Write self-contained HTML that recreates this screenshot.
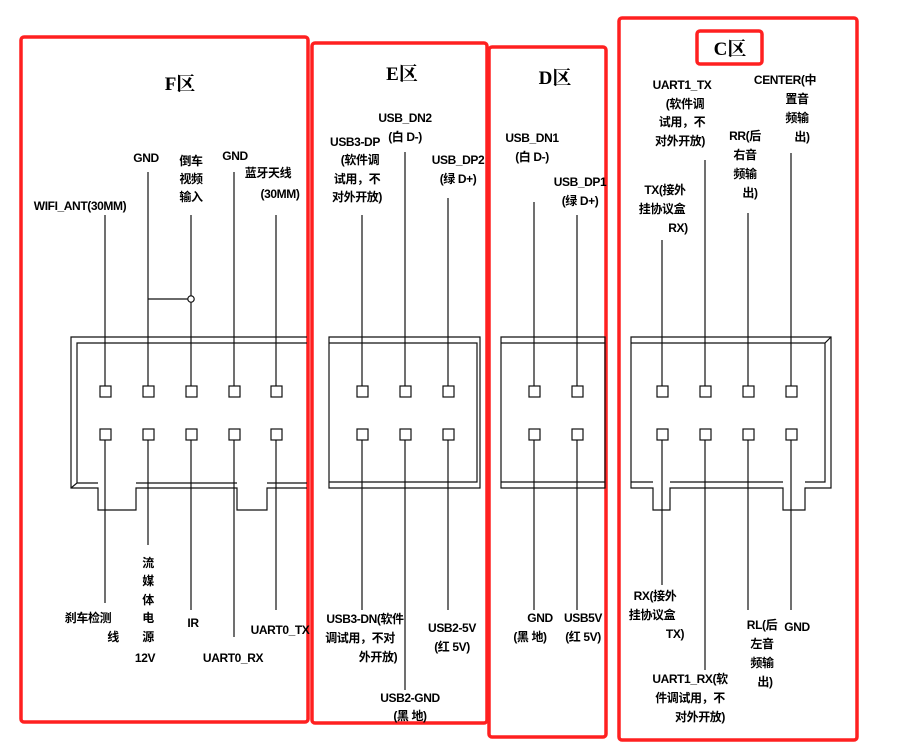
<!DOCTYPE html>
<html><head><meta charset="utf-8"><style>
html,body{margin:0;padding:0;background:#fff;}
svg{display:block;}
text{font-family:"Liberation Sans","Noto Sans CJK SC",sans-serif;font-weight:bold;font-size:12px;fill:#000;letter-spacing:-0.4px;}
.t{font-size:19px;font-weight:bold;font-family:"Liberation Serif","Noto Serif CJK SC",serif;letter-spacing:0;}
</style></head><body>
<svg width="900" height="756" viewBox="0 0 900 756">
<g fill="none" stroke="#ff2020" stroke-width="3.5" stroke-linejoin="round">
<rect x="21" y="37" width="287" height="685" rx="3"/>
<rect x="312" y="43" width="175" height="680" rx="3"/>
<rect x="489" y="47" width="117" height="690" rx="3"/>
<rect x="619" y="18" width="238" height="722" rx="3"/>
<rect x="697" y="31" width="65" height="33" rx="3"/>
</g>
<g fill="none" stroke="#111" stroke-width="1.2">
<path d="M307 337 H71 V488 H98 V510 H136 V488 H237 V510 H267 V488 H307"/>
<path d="M307 343 H77 V483 L71 488 M77 483 H98 M136 483 H237 M267 483 H307"/>
<path d="M329 337 H480 V488 H329 Z M329 343 H477 V482 H329"/>
<path d="M501 337 H605 V488 H501 Z M501 343 H605 M501 482 H605"/>
<path d="M631 337 H831 V488 H805 V510 H783 V488 H670 V510 H653 V488 H631 Z"/>
<path d="M631 343 H825 L831 337 M825 343 V482 H805 M783 482 H670 M653 482 H631"/>
<g>
<rect x="100" y="386" width="11" height="11"/><rect x="143" y="386" width="11" height="11"/><rect x="186" y="386" width="11" height="11"/><rect x="229" y="386" width="11" height="11"/><rect x="271" y="386" width="11" height="11"/>
<rect x="100" y="429" width="11" height="11"/><rect x="143" y="429" width="11" height="11"/><rect x="186" y="429" width="11" height="11"/><rect x="229" y="429" width="11" height="11"/><rect x="271" y="429" width="11" height="11"/>
<rect x="357" y="386" width="11" height="11"/><rect x="400" y="386" width="11" height="11"/><rect x="443" y="386" width="11" height="11"/>
<rect x="357" y="429" width="11" height="11"/><rect x="400" y="429" width="11" height="11"/><rect x="443" y="429" width="11" height="11"/>
<rect x="529" y="386" width="11" height="11"/><rect x="572" y="386" width="11" height="11"/>
<rect x="529" y="429" width="11" height="11"/><rect x="572" y="429" width="11" height="11"/>
<rect x="657" y="386" width="11" height="11"/><rect x="700" y="386" width="11" height="11"/><rect x="743" y="386" width="11" height="11"/><rect x="786" y="386" width="11" height="11"/>
<rect x="657" y="429" width="11" height="11"/><rect x="700" y="429" width="11" height="11"/><rect x="743" y="429" width="11" height="11"/><rect x="786" y="429" width="11" height="11"/>
</g>
<path d="M105 215 V386 M148 172 V386 M191 215 V386 M234 172 V386 M276 215 V386 M148 299 H188"/>
<circle cx="191" cy="299" r="3.2" fill="#fff"/>
<path d="M362 215 V386 M405 152 V386 M448 198 V386 M534 202 V386 M577 215 V386 M662 240 V386 M705 160 V386 M748 213 V386 M791 153 V386"/>
<path d="M105 440 V603 M148 440 V545 M191 440 V610 M234 440 V637 M276 440 V610"/>
<path d="M362 440 V610 M405 440 V690 M448 440 V610 M534 440 V610 M577 440 V610"/>
<path d="M662 440 V585 M705 440 V670 M748 440 V610 M791 440 V610"/>
</g>
<g text-anchor="middle">
<text class="t" x="180" y="90">F区</text>
<text class="t" x="402" y="80">E区</text>
<text class="t" x="555" y="84">D区</text>
<text class="t" x="730" y="55">C区</text>
<text x="80" y="210">WIFI_ANT(30MM)</text>
<text x="146" y="162">GND</text>
<text x="191" y="165">倒车</text><text x="191" y="183">视频</text><text x="191" y="201">输入</text>
<text x="235" y="160">GND</text>
<text x="268" y="177">蓝牙天线</text><text x="280" y="198">(30MM)</text>
<text x="405" y="122">USB_DN2</text><text x="405" y="141">(白 D-)</text>
<text x="355" y="146">USB3-DP</text><text x="360" y="164">(软件调</text><text x="357" y="183">试用，不</text><text x="357" y="201">对外开放)</text>
<text x="458" y="164">USB_DP2</text><text x="458" y="183">(绿 D+)</text>
<text x="532" y="142">USB_DN1</text><text x="532" y="161">(白 D-)</text>
<text x="580" y="186">USB_DP1</text><text x="580" y="205">(绿 D+)</text>
<text x="682" y="89">UART1_TX</text><text x="685" y="108">(软件调</text><text x="682" y="126">试用，不</text><text x="680" y="145">对外开放)</text>
<text x="785" y="84">CENTER(中</text><text x="797" y="103">置音</text><text x="797" y="122">频输</text><text x="802" y="141">出)</text>
<text x="745" y="140">RR(后</text><text x="745" y="159">右音</text><text x="745" y="178">频输</text><text x="750" y="197">出)</text>
<text x="665" y="194">TX(接外</text><text x="662" y="213">挂协议盒</text><text x="678" y="232">RX)</text>
<text x="88" y="622">刹车检测</text><text x="113" y="641">线</text>
<text x="148" y="567">流</text><text x="148" y="585">媒</text><text x="148" y="604">体</text><text x="148" y="622">电</text><text x="148" y="641">源</text><text x="145" y="662">12V</text>
<text x="193" y="627">IR</text>
<text x="233" y="662">UART0_RX</text>
<text x="280" y="634">UART0_TX</text>
<text x="365" y="623">USB3-DN(软件</text><text x="360" y="642">调试用，不对</text><text x="378" y="661">外开放)</text>
<text x="452" y="632">USB2-5V</text><text x="452" y="651">(红 5V)</text>
<text x="410" y="702">USB2-GND</text><text x="410" y="720">(黑 地)</text>
<text x="540" y="622">GND</text><text x="530" y="641">(黑 地)</text>
<text x="583" y="622">USB5V</text><text x="583" y="641">(红 5V)</text>
<text x="655" y="600">RX(接外</text><text x="652" y="619">挂协议盒</text><text x="675" y="638">TX)</text>
<text x="762" y="629">RL(后</text><text x="762" y="648">左音</text><text x="762" y="667">频输</text><text x="765" y="686">出)</text>
<text x="797" y="631">GND</text>
<text x="690" y="683">UART1_RX(软</text><text x="690" y="702">件调试用，不</text><text x="700" y="721">对外开放)</text>
</g>
</svg>
</body></html>
